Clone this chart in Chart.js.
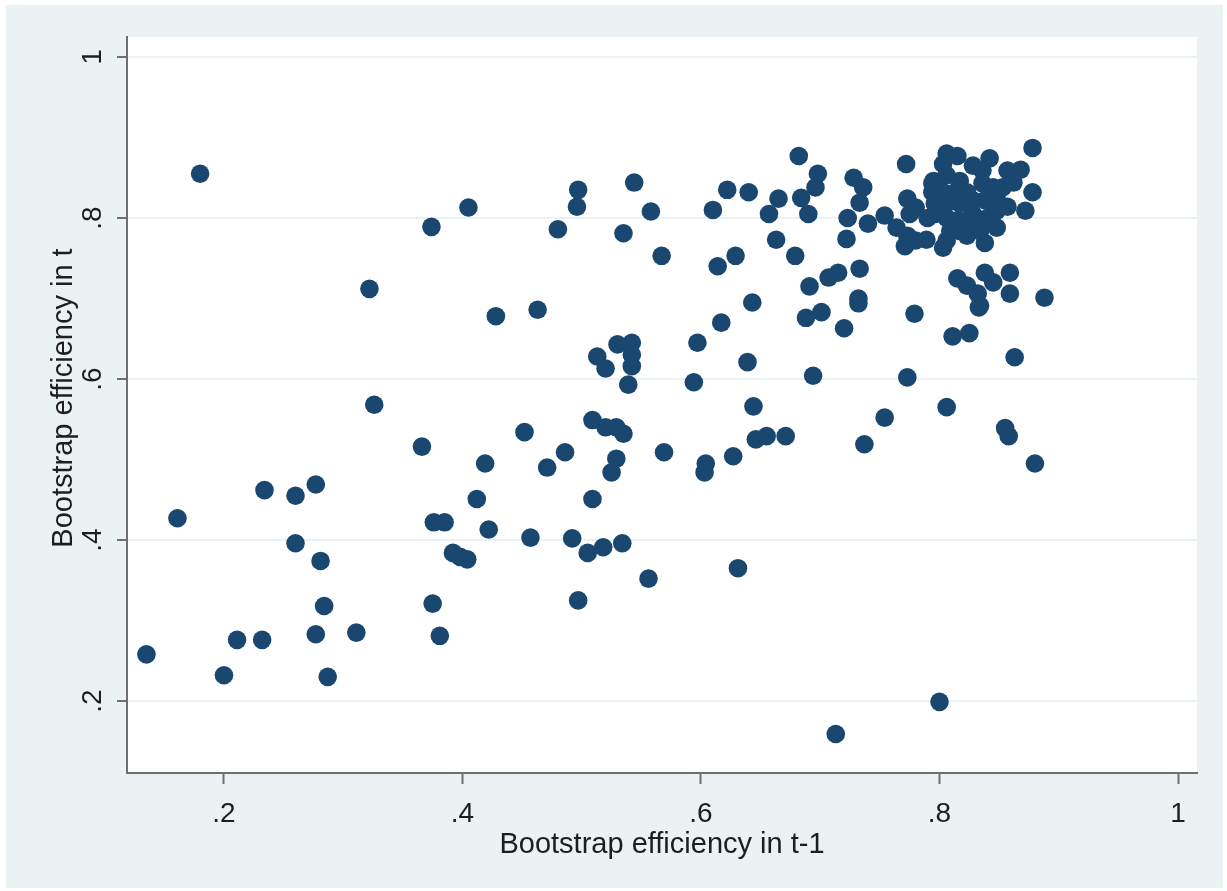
<!DOCTYPE html>
<html>
<head>
<meta charset="utf-8">
<title>Bootstrap efficiency</title>
<script src="https://cdn.jsdelivr.net/npm/chart.js@4/dist/chart.umd.min.js"></script>
<style>
  html, body { margin: 0; padding: 0; background: #fff; overflow: hidden; }
  canvas { display: block; }
</style>
</head>
<body>
<canvas id="grafica" width="1227" height="891"></canvas>
<script>
// eficiencia en t-1 (eje x) y en t (eje y)
const xVals = [
  .135,.161,.180,.200,.211,.232,.234,.260,.260,.277,
  .277,.281,.284,.287,.311,.322,.326,.366,.374,.375,
  .376,.385,.381,.392,.398,.404,.405,.412,.419,.422,
  .428,.452,.457,.463,.471,.480,.486,.492,.496,.497,
  .497,.505,.509,.509,.513,.518,.520,.520,.525,.529,
  .529,.530,.534,.535,.535,.539,.542,.542,.542,.544,
  .556,.558,.567,.569,.594,.597,.603,.604,.610,.614,
  .617,.622,.627,.629,.631,.639,.640,.643,.644,.646,
  .655,.657,.663,.665,.671,.679,.682,.684,.688,.690,
  .691,.694,.696,.698,.701,.707,.713,.715,.720,.722,
  .723,.728,.732,.732,.733,.736,.733,.737,.740,.754,
  .754,.764,.772,.773,.773,.771,.773,.775,.779,.780,
  .780,.789,.790,.794,.800,.803,.806,.815,.803,.806,
  .795,.817,.794,.803,.813,.823,.796,.806,.817,.796,
  .806,.815,.809,.817,.823,.806,.823,.828,.842,.836,
  .857,.868,.836,.845,.853,.862,.878,.872,.857,.848,
  .838,.828,.828,.840,.848,.848,.837,.834,.838,.878,
  .815,.823,.832,.834,.838,.845,.859,.859,.888,.811,
  .825,.863,.806,.855,.858,.880,.833
];
const yVals = [
  .258,.427,.855,.232,.276,.276,.462,.455,.396,.469,
  .283,.374,.318,.230,.285,.712,.568,.516,.789,.321,
  .422,.422,.281,.384,.379,.376,.813,.451,.495,.413,
  .678,.534,.403,.686,.490,.786,.509,.402,.814,.835,
  .325,.384,.549,.451,.628,.391,.613,.540,.484,.501,
  .540,.643,.396,.781,.532,.593,.645,.630,.616,.844,
  .352,.808,.753,.509,.596,.645,.484,.495,.810,.740,
  .670,.835,.504,.753,.365,.621,.832,.695,.566,.525,
  .529,.805,.773,.824,.529,.753,.877,.825,.676,.805,
  .715,.604,.838,.855,.683,.726,.159,.732,.663,.774,
  .800,.850,.694,.700,.737,.838,.819,.519,.793,.552,
  .803,.788,.867,.824,.778,.765,.602,.805,.681,.813,
  .772,.773,.800,.843,.199,.763,.880,.877,.867,.853,
  .846,.846,.832,.832,.832,.832,.818,.818,.818,.805,
  .800,.797,.784,.784,.778,.772,.797,.865,.874,.859,
  .859,.860,.843,.838,.838,.844,.832,.809,.814,.824,
  .822,.822,.805,.800,.809,.788,.794,.784,.769,.887,
  .725,.716,.706,.691,.732,.720,.732,.706,.701,.653,
  .657,.627,.565,.539,.529,.495,.689
];

const tickValues = [0.2, 0.4, 0.6, 0.8, 1];
const tickLabels = ['.2', '.4', '.6', '.8', '1'];
const xTitle = 'Bootstrap efficiency in t-1';
const yTitle = 'Bootstrap efficiency in t';

const fuente = '"Liberation Sans", Arial, Helvetica, sans-serif';
const colorTexto = '#1e1e1e';
const colorEje = '#6f6f6f';
const colorFondo = '#eaf2f3';

const puntos = xVals.map((x, i) => ({ x: x, y: yVals[i] }));

// fondo estilo Stata + textos de los ejes
const estiloStata = {
    id: 'estiloStata',
    beforeDraw(chart) {
        const ctx = chart.ctx;
        const a = chart.chartArea;
        ctx.save();
        ctx.fillStyle = '#ffffff';
        ctx.fillRect(0, 0, chart.width, chart.height);
        ctx.fillStyle = colorFondo;
        ctx.fillRect(6, 5, chart.width - 10, chart.height - 8);
        ctx.fillStyle = '#ffffff';
        ctx.fillRect(a.left, a.top, a.right - a.left, a.bottom - a.top);
        ctx.restore();
    },
    afterDraw(chart) {
        const ctx = chart.ctx;
        const a = chart.chartArea;
        const sx = chart.scales.x;
        const sy = chart.scales.y;
        ctx.save();
        ctx.fillStyle = colorTexto;

        ctx.font = '28px ' + fuente;
        ctx.textAlign = 'center';
        ctx.textBaseline = 'alphabetic';
        tickValues.forEach((v, i) => {
            ctx.fillText(tickLabels[i], sx.getPixelForValue(v), 822);
        });
        tickValues.forEach((v, i) => {
            ctx.save();
            ctx.translate(101, sy.getPixelForValue(v));
            ctx.rotate(-Math.PI / 2);
            ctx.fillText(tickLabels[i], 0, 0);
            ctx.restore();
        });

        ctx.font = '29px ' + fuente;
        ctx.fillText(xTitle, (a.left + a.right) / 2, 853);
        ctx.save();
        ctx.translate(72, 398);
        ctx.rotate(-Math.PI / 2);
        ctx.fillText(yTitle, 0, 0);
        ctx.restore();

        ctx.restore();
    }
};

const ctx = document.getElementById('grafica').getContext('2d');
const grafica = new Chart(ctx, {
    type: 'scatter',
    data: {
        datasets: [{
            data: puntos,
            backgroundColor: '#1a476f',
            borderColor: '#1a476f',
            borderWidth: 0,
            pointRadius: 9.3,
            pointHoverRadius: 9.3
        }]
    },
    options: {
        responsive: false,
        animation: false,
        events: [],
        layout: { padding: { left: 0, top: 37, right: 30, bottom: 0 } },
        plugins: {
            legend: { display: false },
            tooltip: { enabled: false }
        },
        scales: {
            x: {
                type: 'linear',
                min: 0.1187,
                max: 1.0159,
                afterBuildTicks: (s) => { s.ticks = tickValues.map(v => ({ value: v })); },
                afterFit: (s) => { s.height = 118; },
                ticks: { display: false },
                grid: {
                    drawOnChartArea: false,
                    tickLength: 11,
                    tickColor: colorEje,
                    tickWidth: 2
                },
                border: { color: colorEje, width: 2 }
            },
            y: {
                type: 'linear',
                min: 0.1106,
                max: 1.0248,
                afterBuildTicks: (s) => { s.ticks = tickValues.map(v => ({ value: v })); },
                afterFit: (s) => { s.width = 127; },
                ticks: { display: false },
                grid: {
                    color: colorFondo,
                    lineWidth: 2,
                    tickLength: 10,
                    tickColor: colorEje,
                    tickWidth: 2
                },
                border: { color: colorEje, width: 2 }
            }
        }
    },
    plugins: [estiloStata]
});
</script>
</body>
</html>
